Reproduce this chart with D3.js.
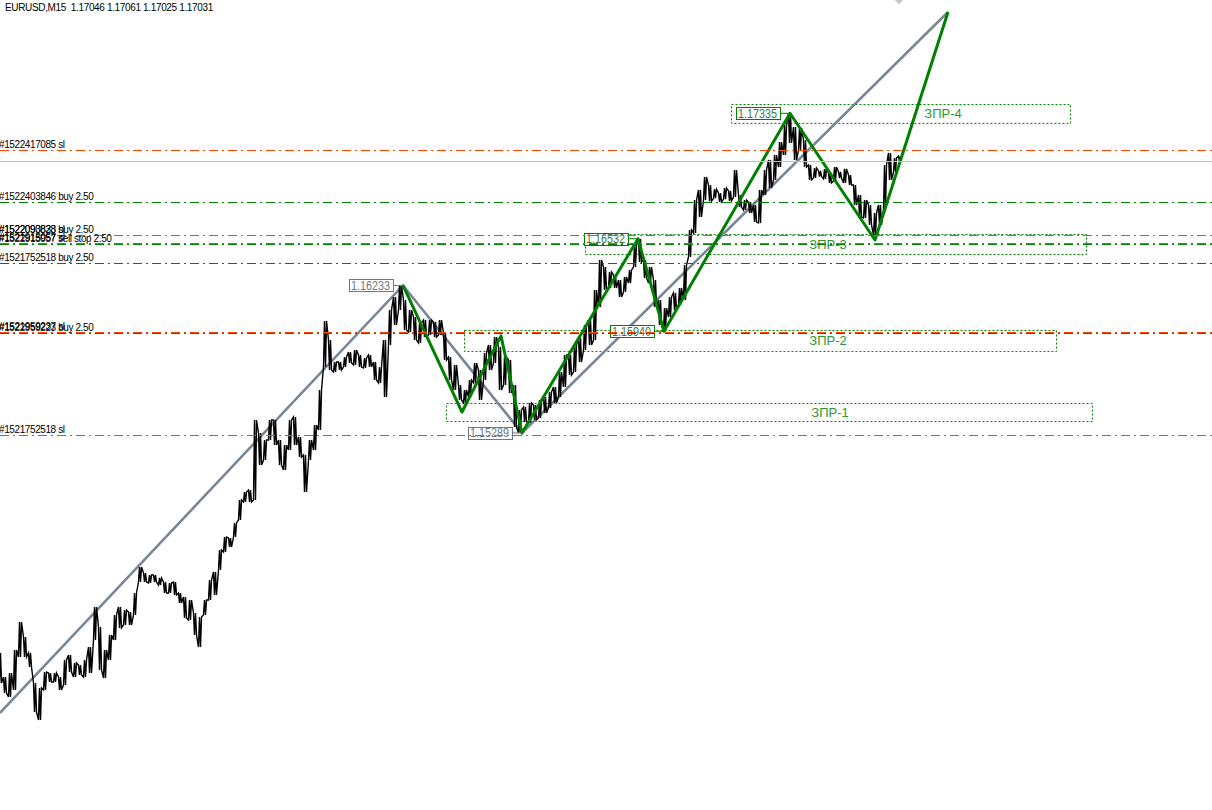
<!DOCTYPE html>
<html>
<head>
<meta charset="utf-8">
<script src="https://cdn.jsdelivr.net/npm/d3@7/dist/d3.min.js"></script>
<style>
  body { margin: 0; background: #fff; }
  svg { display: block; }
  text { font-family: "Liberation Sans", Arial, sans-serif; }
</style>
</head>
<body>
<svg id="chart" width="1212" height="810"></svg>
<script>
/* EURUSD M15 - high / low of each bar (one bar every 5 px of the picture) */
const highs = [
    1.13881, 1.13727, 1.13753, 1.13900, 1.14079, 1.13983, 1.13881, 1.13689, 1.13657, 1.13759,
    1.13753, 1.13753, 1.13727, 1.13836, 1.13868, 1.13817, 1.13804, 1.13836, 1.13919, 1.14175,
    1.14047, 1.13900, 1.13996, 1.14124, 1.14175, 1.14156, 1.14143, 1.14265, 1.14431, 1.14393,
    1.14380, 1.14380, 1.14361, 1.14335, 1.14329, 1.14335, 1.14265, 1.14239, 1.14220, 1.14137,
    1.14111, 1.14220, 1.14348, 1.14399, 1.14540, 1.14623, 1.14617, 1.14713, 1.14860, 1.14911,
    1.14924, 1.15372, 1.15289, 1.15244, 1.15372, 1.15372, 1.15244, 1.15212, 1.15372, 1.15391,
    1.15263, 1.15148, 1.15244, 1.15340, 1.15564, 1.16006, 1.15884, 1.15743, 1.15743, 1.15775,
    1.15807, 1.15820, 1.15788, 1.15769, 1.15788, 1.15743, 1.15711, 1.15884, 1.16076, 1.16159,
    1.16233, 1.16140, 1.16076, 1.16031, 1.15993, 1.16012, 1.16012, 1.15999, 1.16012, 1.15929,
    1.15775, 1.15724, 1.15596, 1.15564, 1.15628, 1.15737, 1.15692, 1.15801, 1.15852, 1.15903,
    1.15839, 1.15775, 1.15756, 1.15596, 1.15436, 1.15455, 1.15481, 1.15468, 1.15500, 1.15519,
    1.15551, 1.15583, 1.15679, 1.15788, 1.15788, 1.15852, 1.15897, 1.15980, 1.16012, 1.16204,
    1.16396, 1.16351, 1.16319, 1.16300, 1.16268, 1.16287, 1.16332, 1.16492, 1.16532, 1.16396,
    1.16351, 1.16268, 1.16140, 1.16089, 1.16159, 1.16185, 1.16217, 1.16364, 1.16588, 1.16780,
    1.16844, 1.16927, 1.16876, 1.16850, 1.16825, 1.16857, 1.16838, 1.16972, 1.16812, 1.16780,
    1.16767, 1.16748, 1.16844, 1.16972, 1.17036, 1.17068, 1.17151, 1.17260, 1.17335, 1.17247,
    1.17241, 1.17164, 1.17004, 1.16985, 1.16966, 1.16978, 1.16953, 1.16991, 1.16960, 1.16979,
    1.16940, 1.16876, 1.16812, 1.16780, 1.16748, 1.16697, 1.16748, 1.17004, 1.17081, 1.17049,
    1.17061
];
const lows = [
    1.13689, 1.13625, 1.13599, 1.13644, 1.13855, 1.13855, 1.13791, 1.13503, 1.13452, 1.13644,
    1.13695, 1.13695, 1.13644, 1.13676, 1.13759, 1.13727, 1.13740, 1.13727, 1.13753, 1.13964,
    1.13772, 1.13721, 1.13836, 1.13964, 1.14041, 1.14060, 1.14060, 1.14124, 1.14335, 1.14335,
    1.14329, 1.14335, 1.14316, 1.14265, 1.14265, 1.14252, 1.14201, 1.14105, 1.14092, 1.13996,
    1.13919, 1.14124, 1.14220, 1.14252, 1.14412, 1.14527, 1.14559, 1.14623, 1.14732, 1.14847,
    1.14847, 1.14860, 1.15084, 1.15116, 1.15244, 1.15212, 1.15084, 1.15052, 1.15180, 1.15212,
    1.15135, 1.14911, 1.15116, 1.15180, 1.15308, 1.15711, 1.15692, 1.15679, 1.15692, 1.15711,
    1.15737, 1.15724, 1.15711, 1.15705, 1.15711, 1.15628, 1.15609, 1.15519, 1.15852, 1.15980,
    1.16076, 1.15948, 1.15935, 1.15884, 1.15865, 1.15903, 1.15916, 1.15903, 1.15916, 1.15756,
    1.15628, 1.15564, 1.15500, 1.15481, 1.15519, 1.15609, 1.15500, 1.15628, 1.15692, 1.15737,
    1.15564, 1.15596, 1.15545, 1.15327, 1.15289, 1.15359, 1.15353, 1.15372, 1.15385, 1.15417,
    1.15449, 1.15481, 1.15519, 1.15583, 1.15660, 1.15679, 1.15743, 1.15820, 1.15852, 1.15884,
    1.16095, 1.16204, 1.16217, 1.16217, 1.16159, 1.16191, 1.16249, 1.16351, 1.16383, 1.16281,
    1.16249, 1.16095, 1.15980, 1.15940, 1.16031, 1.16076, 1.16108, 1.16140, 1.16415, 1.16569,
    1.16671, 1.16780, 1.16772, 1.16791, 1.16768, 1.16785, 1.16774, 1.16799, 1.16735, 1.16716,
    1.16697, 1.16639, 1.16633, 1.16812, 1.16857, 1.16908, 1.16991, 1.17068, 1.17145, 1.17036,
    1.17100, 1.16991, 1.16908, 1.16921, 1.16930, 1.16915, 1.16889, 1.16902, 1.16920, 1.16889,
    1.16876, 1.16748, 1.16671, 1.16665, 1.16620, 1.16556, 1.16620, 1.16716, 1.16908, 1.16959,
    1.17025
];

/* header: symbol, period, O H L C of the last bar */
const symbol = "EURUSD,M15";
const lastOHLC = ["1.17046", "1.17061", "1.17025", "1.17031"];
const bid = 1.17031;

/* zigzag (green) and trend lines (grey): bar number / price */
const zigzagBars   = [80.6, 92.4, 100.2, 104.4, 127.6, 132.8, 158, 175, 189.6];
const zigzagPrices = [1.16233, 1.15423, 1.15910, 1.15289, 1.16532, 1.15940, 1.17335, 1.16524, 1.17983];
const trendBars    = [0, 80.6, 104.4, 189.6];
const trendPrices  = [1.13497, 1.16233, 1.15289, 1.17983];

/* price tags on the swing points */
const tagBars   = [80.6, 104.4, 127.6, 132.8, 158];
const tagPrices = [1.16233, 1.15289, 1.16532, 1.15940, 1.17335];
const tagKinds  = ["grey", "grey", "green", "green", "green"];

/* zones ЗПР-1..4 */
const zoneNames    = ["ЗПР-1", "ЗПР-2", "ЗПР-3", "ЗПР-4"];
const zoneStart    = [89.2, 92.8, 117, 146.2];
const zoneEnd      = [218.4, 211.2, 217.2, 214];
const zoneTop      = [1.15481, 1.15948, 1.16562, 1.17394];
const zoneBottom   = [1.15366, 1.15814, 1.16434, 1.17273];
const zoneLabelBar = [166, 165.6, 165.6, 188.6];

/* order lines */
const orderPrices = [1.17100, 1.16767, 1.16556, 1.16556, 1.16505, 1.16499, 1.16377, 1.15935, 1.15929, 1.15276];
const orderLabels = [
    "#1522417085 sl", "#1522403846 buy 2.50", "#1522093838 buy 2.50", "#1522090823 sl",
    "#1521915057 sl", "#1522915957 sell stop 2.50", "#1521752518 buy 2.50",
    "#1521959237 sl", "#1522959223 buy 2.50", "#1521752518 sl"
];
const orderTypes = ["sl", "buy", "buy", "sl", "sl", "sell stop", "buy", "sl", "buy", "sl"];

const width = 1212, height = 810;
const svg = d3.select("#chart");

svg.append("rect")
    .attr("width", width)
    .attr("height", height)
    .attr("fill", "#ffffff");

/* scale X: bar number, scale Y: price */
const x = d3.scaleLinear().domain([0, 242.4]).range([0, width]);
const y = d3.scaleLinear().domain([1.12876, 1.1806]).range([height, 0]);

const colOrange = "#ff4500";
const colGreen = "#008000";

/* zones (dotted rectangles) */
const zones = svg.append("g");
zoneNames.forEach((name, i) => {
    zones.append("rect")
        .attr("x", x(zoneStart[i]) + 0.5)
        .attr("y", Math.round(y(zoneTop[i])) + 0.5)
        .attr("width", x(zoneEnd[i]) - x(zoneStart[i]))
        .attr("height", y(zoneBottom[i]) - y(zoneTop[i]))
        .attr("fill", "none")
        .attr("stroke", colGreen)
        .attr("stroke-width", 1)
        .attr("stroke-dasharray", "2,2");
    zones.append("text")
        .attr("x", x(zoneLabelBar[i]))
        .attr("y", (y(zoneTop[i]) + y(zoneBottom[i])) / 2)
        .attr("dy", "0.36em")
        .attr("text-anchor", "middle")
        .attr("font-size", 13)
        .attr("fill", "#2e962e")
        .text(name);
});

/* grey trend lines */
const line = d3.line().x(d => x(d[0])).y(d => y(d[1]));
svg.append("path")
    .attr("d", line(trendBars.map((b, i) => [b, trendPrices[i]])))
    .attr("fill", "none")
    .attr("stroke", "#7a8794")
    .attr("stroke-width", 2.6);

/* price line: each bar swings twice between its low and high */
const pts = [];
let last = null;
highs.forEach((h, i) => {
    const l = lows[i];
    const a = (last === null || Math.abs(last - h) < Math.abs(last - l)) ? h : l;
    const b = a === h ? l : h;
    pts.push([i - 0.3, a], [i - 0.1, b], [i + 0.1, a], [i + 0.3, b]);
    last = b;
});
svg.append("path")
    .attr("d", line(pts))
    .attr("fill", "none")
    .attr("stroke", "#000")
    .attr("stroke-width", 1.4)
    .attr("stroke-linejoin", "miter");

/* zigzag */
svg.append("path")
    .attr("d", line(zigzagBars.map((b, i) => [b, zigzagPrices[i]])))
    .attr("fill", "none")
    .attr("stroke", colGreen)
    .attr("stroke-width", 3)
    .attr("stroke-linejoin", "round");

/* little marker at top (partly outside the window) */
svg.append("path")
    .attr("d", d3.symbol().type(d3.symbolSquare).size(60)())
    .attr("transform", `translate(${x(179.8)},${y(1.18068)}) rotate(45)`)
    .attr("fill", "#c8c8c8");

/* price tags */
const tags = svg.append("g");
tagBars.forEach((b, i) => {
    const vx = x(b), vy = y(tagPrices[i]);
    const c = tagKinds[i] === "grey" ? "#6e7884" : colGreen;
    tags.append("line")
        .attr("x1", vx - 10).attr("x2", vx)
        .attr("y1", vy).attr("y2", vy)
        .attr("stroke", c);
    tags.append("rect")
        .attr("x", Math.round(vx - 54) + 0.5)
        .attr("y", Math.round(vy - 6) + 0.5)
        .attr("width", 44)
        .attr("height", 12)
        .attr("fill", "#fff")
        .attr("stroke", c);
    tags.append("text")
        .attr("x", vx - 52)
        .attr("y", vy + 4.5)
        .attr("font-family", "'Liberation Mono', 'DejaVu Sans Mono', monospace")
        .attr("font-size", 12)
        .attr("textLength", 39)
        .attr("lengthAdjust", "spacingAndGlyphs")
        .attr("fill", tagKinds[i] === "grey" ? "#6e7884" : "#3d7a3d")
        .text(tagPrices[i].toFixed(5));
});

/* bid line */
svg.append("line")
    .attr("x1", 0).attr("x2", width)
    .attr("y1", Math.round(y(bid)) + 0.5).attr("y2", Math.round(y(bid)) + 0.5)
    .attr("stroke", "#c0c0c0")
    .attr("stroke-width", 1);

/* order lines with their labels */
const orders = svg.append("g");
orderPrices.forEach((p, i) => {
    const yy = Math.round(y(p)) + 0.5;
    orders.append("line")
        .attr("x1", 0).attr("x2", width)
        .attr("y1", yy).attr("y2", yy)
        .attr("stroke", orderTypes[i] === "sl" ? colOrange : colGreen)
        .attr("stroke-width", 1)
        .attr("stroke-dasharray", "9,4,2,4");
    orders.append("text")
        .attr("x", -1)
        .attr("y", yy - 3)
        .attr("font-size", 10)
        .attr("letter-spacing", "-0.4px")
        .attr("fill", "#000")
        .text(orderLabels[i]);
});

/* header */
svg.append("text")
    .attr("x", 5)
    .attr("y", 11)
    .attr("font-size", 10)
    .attr("letter-spacing", "-0.35px")
    .attr("fill", "#000")
    .style("white-space", "pre")
    .text(symbol + "  " + lastOHLC.join(" "));
</script>
</body>
</html>
